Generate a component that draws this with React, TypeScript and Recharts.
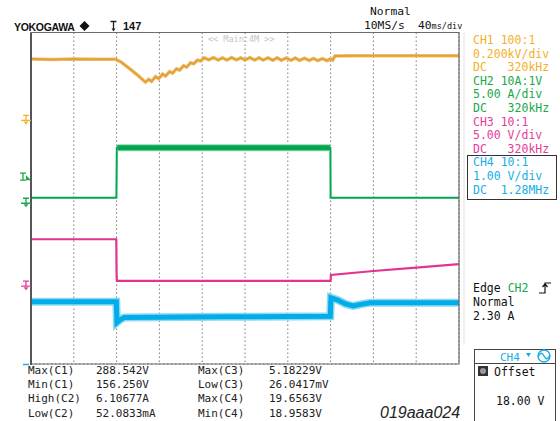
import { CartesianGrid, Line, LineChart, XAxis, YAxis } from "recharts";

type Pt = [number, number];

// 40 ms/div, 10 divisions, trigger point at the 2nd division
const TIME_TICKS = [-80, -40, 0, 40, 80, 120, 160, 200, 240, 280, 320];
const DIV_TICKS = [0, 1, 2, 3, 4, 5, 6, 7, 8];

// CH1 - input voltage [ms, V]
const CH1_VOLTS: Pt[] = [
  [-80, 272], [-60, 270], [-40, 272], [-20, 271], [-1, 271], [4, 258], [13, 222], [21, 188],
  [27, 160], [30, 174], [32.7, 164], [36.4, 187], [39.3, 177], [43, 199], [45.8, 190],
  [49.5, 211], [52.3, 204], [56, 225], [58.9, 218], [62.6, 240], [65.4, 233], [69.2, 254],
  [72, 249], [75.7, 267], [78.5, 262], [82, 278], [86, 268], [90.5, 279], [95, 267],
  [99, 278], [103, 267], [107.5, 279], [112, 268], [116, 278], [120, 267], [124.5, 279],
  [129, 267], [133, 278], [137, 267], [141.5, 278], [146, 266], [150, 278], [154, 266],
  [158.5, 277], [163, 266], [167, 277], [171, 265], [175.5, 276], [180, 265], [184, 275],
  [188, 264], [192.5, 274], [196.5, 264], [200, 273], [202, 267], [204, 287], [220, 288],
  [260, 288], [320, 288],
];

// CH2 - current [ms, A]
const CH2_AMPS: Pt[] = [
  [-80, 0.05], [-0.2, 0.05], [0, 2.8], [0.2, 6.1], [100, 6.1], [199.8, 6.1], [200, 0.05], [320, 0.05],
];
const CH2_ON_BAND: Pt[] = [[0.6, 6.1], [199.4, 6.1]];

// CH3 - enable/gate [ms, V]
const CH3_VOLTS: Pt[] = [
  [-80, 5.05], [-0.3, 5.05], [0, 0.6], [0.3, 0.03], [200, 0.03], [200.3, 0.75],
  [240, 1.22], [280, 1.63], [320, 2.05],
];

// CH4 - output [ms, V], 18 V offset
const CH4_VOLTS: Pt[] = [
  [-80, 19.5], [-40, 19.5], [-0.3, 19.5], [0.3, 19.0], [3, 19.06], [7, 19.12], [100, 19.14],
  [199.7, 19.15], [200.3, 19.6], [206, 19.55], [214, 19.45], [221, 19.4], [228, 19.44],
  [237, 19.48], [320, 19.48],
];

const CHANNEL_INFO = [
  { color: "#F2B02C", lines: ["CH1 100:1", "0.200kV/div", "DC   320kHz"] },
  { color: "#19A84C", lines: ["CH2 10A:1V", "5.00 A/div", "DC   320kHz"] },
  { color: "#E53B9A", lines: ["CH3 10:1", "5.00 V/div", "DC   320kHz"] },
  { color: "#18ADE6", lines: ["CH4 10:1", "1.00 V/div", "DC  1.28MHz"] },
];

const MEASURE_LEFT = [
  ["Max(C1)", "288.542V"],
  ["Min(C1)", "156.250V"],
  ["High(C2)", "6.10677A"],
  ["Low(C2)", "52.0833mA"],
];
const MEASURE_RIGHT = [
  ["Max(C3)", "5.18229V"],
  ["Low(C3)", "26.0417mV"],
  ["Max(C4)", "19.6563V"],
  ["Min(C4)", "18.9583V"],
];

const TRIGGER_LEVEL = 2.3;

const PLOT = { left: 31, top: 32.5, right: 459, bottom: 364 };
const DIV_H = (PLOT.bottom - PLOT.top) / 8;
const MONO = "'DejaVu Sans Mono', monospace";

const rows = (pts: Pt[]) => pts.map(([t, v]) => ({ t, v }));

function GroundMark({ y, color }: { y: number; color: string }) {
  return (
    <g stroke={color} strokeWidth={1.3} fill={color}>
      <path d={`M23 ${y} H29 M26 ${y} V${y + 5} M21 ${y + 5} H31`} fill="none" />
      <path d={`M23.5 ${y + 6} H28.5 L26 ${y + 9} Z`} stroke="none" />
    </g>
  );
}

function Overlay() {
  // ground positions follow each channel's domain below
  const yCh1 = PLOT.top + 2 * DIV_H;
  const yCh2 = PLOT.top + 4 * DIV_H;
  const yCh3 = PLOT.top + 6 * DIV_H;
  const yTrig = PLOT.top + ((20 - TRIGGER_LEVEL) / 40) * (PLOT.bottom - PLOT.top);
  const infoY = 40;
  const infoStep = 13.6;

  return (
    <svg width={560} height={421} style={{ position: "absolute", left: 0, top: 0, pointerEvents: "none" }}>
      {/* frame */}
      <line x1={464} y1={33} x2={464} y2={345} stroke="#e2e2e2" />
      <path d={`M${PLOT.left} ${PLOT.top} H${PLOT.right} V${PLOT.bottom} H${PLOT.left}`} fill="none" stroke="#6a6a6a" strokeWidth={1.2} />
      <line x1={PLOT.left} y1={PLOT.top} x2={PLOT.left} y2={PLOT.bottom + 1} stroke="#555" strokeWidth={2} />

      {/* header */}
      <text x={14} y={30.5} fontFamily="'Liberation Sans', Arial" fontWeight="bold" fontSize={10.5} letterSpacing={-0.3} fill="#111">YOKOGAWA</text>
      <path d="M84.5 21 L89.5 26 L84.5 31 L79.5 26 Z" fill="#111" />
      <path d="M110.5 21.5 H116.5 M113.5 21.5 V29" stroke="#222" strokeWidth={1.3} fill="none" />
      <path d="M111.5 28.5 H115.5 L113.5 31.5 Z" fill="#222" />
      <text x={123} y={30} fontFamily="'Liberation Sans', Arial" fontWeight="bold" fontSize={11} fill="#111">147</text>
      <text x={370} y={15} fontFamily={MONO} fontSize={11.3} fill="#111">Normal</text>
      <text x={364} y={29} fontFamily={MONO} fontSize={11.3} fill="#111">10MS/s</text>
      <text x={418} y={29} fontFamily={MONO} fontSize={11.3} fill="#111">
        40<tspan fontSize={8.5}>ms/div</tspan>
      </text>
      <text x={208} y={42} fontFamily={MONO} fontSize={8.5} fill="#c4c4c4" style={{ whiteSpace: "pre" }}>{"<< Main:4M >>"}</text>

      {/* left markers */}
      <GroundMark y={yCh1} color="#F2B02C" />
      <GroundMark y={yCh2} color="#19A84C" />
      <GroundMark y={yCh3} color="#E53B9A" />
      <path d={`M20 ${yTrig - 6} H26 M23 ${yTrig - 6} V${yTrig + 1} M20 ${yTrig + 1} H26`} stroke="#19A84C" strokeWidth={1.3} fill="none" />
      <path d={`M26 ${yTrig + 1} L26 ${yTrig - 4} L31 ${yTrig + 1} Z`} fill="#19A84C" />
      <line x1={23} y1={PLOT.bottom + 0.5} x2={29} y2={PLOT.bottom + 0.5} stroke="#18ADE6" strokeWidth={1.5} />

      {/* channel panel */}
      {CHANNEL_INFO.map((ch, i) =>
        ch.lines.map((s, j) => (
          <text key={`${i}-${j}`} x={473} y={infoY + (i * 3 + j) * infoStep + 4} fontFamily={MONO} fontSize={11.5} fill={ch.color} style={{ whiteSpace: "pre" }}>{s}</text>
        ))
      )}
      <rect x={467.5} y={155.5} width={89} height={44} fill="none" stroke="#333" strokeWidth={1} />

      {/* trigger info */}
      <text x={473} y={292} fontFamily={MONO} fontSize={11.5} fill="#111" style={{ whiteSpace: "pre" }}>
        Edge <tspan fill="#19A84C">CH2</tspan>
      </text>
      <path d="M539 293 H545 V283 H551 M542.5 287 L545 284 L547.5 287" stroke="#111" strokeWidth={1.2} fill="none" />
      <text x={473} y={306} fontFamily={MONO} fontSize={11.5} fill="#111">Normal</text>
      <text x={473} y={320} fontFamily={MONO} fontSize={11.5} fill="#111" style={{ whiteSpace: "pre" }}>2.30 A</text>

      {/* measurements */}
      {MEASURE_LEFT.map(([k, v], i) => (
        <g key={k}>
          <text x={28} y={374 + i * 14.2} fontFamily={MONO} fontSize={11} fill="#222">{k}</text>
          <text x={96} y={374 + i * 14.2} fontFamily={MONO} fontSize={11} fill="#222">{v}</text>
        </g>
      ))}
      {MEASURE_RIGHT.map(([k, v], i) => (
        <g key={k}>
          <text x={198} y={374 + i * 14.2} fontFamily={MONO} fontSize={11} fill="#222">{k}</text>
          <text x={269} y={374 + i * 14.2} fontFamily={MONO} fontSize={11} fill="#222">{v}</text>
        </g>
      ))}
      <text x={380} y={418} fontFamily="'Liberation Sans', Arial" fontStyle="italic" fontSize={16} fill="#222">019aaa024</text>

      {/* offset box */}
      <rect x={474.5} y={349.5} width={81} height={80} fill="#fff" stroke="#444" strokeWidth={1} />
      <line x1={474.5} y1={363.5} x2={555.5} y2={363.5} stroke="#444" />
      <text x={500} y={360.5} fontFamily={MONO} fontSize={11} fill="#18ADE6">CH4</text>
      <path d="M526 353 H531 L528.5 357 Z" fill="#18ADE6" />
      <circle cx={544} cy={356} r={6} fill="none" stroke="#18ADE6" strokeWidth={1.3} />
      <path d="M538 357 Q541 350 544 356 Q547 362 550 355" fill="none" stroke="#18ADE6" strokeWidth={1.4} />
      <rect x={478} y={366} width={10} height={10} fill="#333" />
      <circle cx={483} cy={371} r={3} fill="#999" />
      <text x={494} y={375.5} fontFamily={MONO} fontSize={11.5} fill="#111">Offset</text>
      <text x={496} y={405} fontFamily={MONO} fontSize={11.5} fill="#111" style={{ whiteSpace: "pre" }}>18.00 V</text>
    </svg>
  );
}

export default function App() {
  return (
    <div style={{ position: "absolute", left: 0, top: 0, width: 560, height: 421, background: "#fff" }}>
      <LineChart
        width={560}
        height={421}
        margin={{ top: PLOT.top, right: 560 - PLOT.right, bottom: 421 - PLOT.bottom, left: PLOT.left }}
      >
        <XAxis type="number" dataKey="t" domain={[-80, 320]} ticks={TIME_TICKS} hide allowDataOverflow />
        <YAxis yAxisId="grid" domain={[0, 8]} ticks={DIV_TICKS} hide />
        <YAxis yAxisId="c1" domain={[-1200, 400]} hide allowDataOverflow />
        <YAxis yAxisId="c2" domain={[-20, 20]} hide allowDataOverflow />
        <YAxis yAxisId="c3" domain={[-10, 30]} hide allowDataOverflow />
        <YAxis yAxisId="c4" domain={[18, 26]} hide allowDataOverflow />
        <CartesianGrid yAxisId="grid" stroke="#7a7a7a" strokeDasharray="1.5 2.5" />
        <Line yAxisId="c1" data={rows(CH1_VOLTS)} dataKey="v" type="linear" stroke="#F0C27A" strokeWidth={3.5} dot={false} isAnimationActive={false} />
        <Line yAxisId="c1" data={rows(CH1_VOLTS)} dataKey="v" type="linear" stroke="#E3A236" strokeWidth={2} dot={false} isAnimationActive={false} />
        <Line yAxisId="c2" data={rows(CH2_AMPS)} dataKey="v" type="linear" stroke="#00A651" strokeWidth={2} dot={false} isAnimationActive={false} />
        <Line yAxisId="c2" data={rows(CH2_ON_BAND)} dataKey="v" type="linear" stroke="#8fd6ab" strokeWidth={7} dot={false} isAnimationActive={false} />
        <Line yAxisId="c2" data={rows(CH2_ON_BAND)} dataKey="v" type="linear" stroke="#00A651" strokeWidth={5} dot={false} isAnimationActive={false} />
        <Line yAxisId="c3" data={rows(CH3_VOLTS)} dataKey="v" type="linear" stroke="#E2338F" strokeWidth={2.2} dot={false} isAnimationActive={false} />
        <Line yAxisId="c4" data={rows(CH4_VOLTS)} dataKey="v" type="linear" stroke="#8fd8f4" strokeWidth={8} dot={false} isAnimationActive={false} />
        <Line yAxisId="c4" data={rows(CH4_VOLTS)} dataKey="v" type="linear" stroke="#00ADE9" strokeWidth={5} dot={false} isAnimationActive={false} />
      </LineChart>
      <Overlay />
    </div>
  );
}
